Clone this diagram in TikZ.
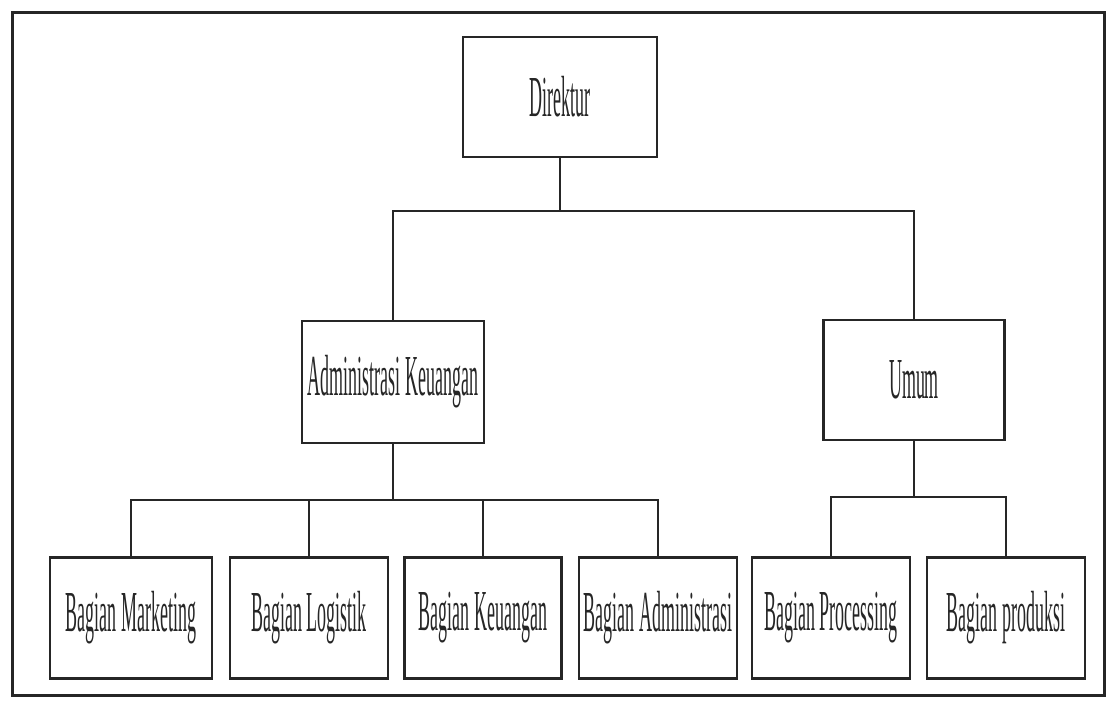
\documentclass[tikz,border=0pt]{standalone}
\usepackage{fontspec}
\setmainfont{Liberation Serif}
\usepackage{graphicx}
\newcommand{\sqz}[1]{\scalebox{0.31}[1]{#1}}
\begin{document}
\begin{tikzpicture}[x=1pt,y=-1pt,
  box/.style={draw=black!85, line width=2.2pt, fill=white, inner sep=0pt,
    font=\fontsize{58}{60}\selectfont, text=black!85},
  conn/.style={draw=black!85, line width=2pt, line cap=rect}]
\useasboundingbox (0,0) rectangle (1108,709);
\fill[white] (0,0) rectangle (1108,709);
\draw[line width=3pt, black!85] (12,13) rectangle (1104,695);

\node[box, minimum width=194pt, minimum height=120pt] (dir) at (560,97) {\sqz{Direktur}};
\node[box, minimum width=182pt, minimum height=122pt] (ak) at (393,382) {\sqz{Administrasi Keuangan}};
\node[box, minimum width=181pt, minimum height=120pt] (um) at (914,380) {\sqz{Umum}};

\node[box, minimum width=162pt, minimum height=121pt] (c1) at (131,618) {\sqz{Bagian Marketing}};
\node[box, minimum width=158pt, minimum height=121pt] (c2) at (309,618) {\sqz{Bagian Logistik}};
\node[box, minimum width=157pt, minimum height=121pt] (c3) at (483,618) {\sqz{Bagian Keuangan}};
\node[box, minimum width=158pt, minimum height=121pt] (c4) at (658,618) {\sqz{Bagian Administrasi}};
\node[box, minimum width=158pt, minimum height=121pt] (c5) at (831,618) {\sqz{Bagian Processing}};
\node[box, minimum width=158pt, minimum height=121pt] (c6) at (1006,618) {\sqz{Bagian produksi}};

\coordinate (l1) at (0,211);
\coordinate (l2) at (0,500);
\coordinate (l3) at (0,497);

% Direktur level
\draw[conn] (dir.south) -- (dir.south |- l1);
\draw[conn] (ak.north) |- (um.north |- l1) -- (um.north);

% Administrasi Keuangan level
\draw[conn] (ak.south) -- (ak.south |- l2);
\draw[conn] (c1.north) |- (c4.north |- l2) -- (c4.north);
\draw[conn] (c2.north) -- (c2.north |- l2);
\draw[conn] (c3.north) -- (c3.north |- l2);

% Umum level
\draw[conn] (um.south) -- (um.south |- l3);
\draw[conn] (c5.north) |- (c6.north |- l3) -- (c6.north);
\end{tikzpicture}
\end{document}
